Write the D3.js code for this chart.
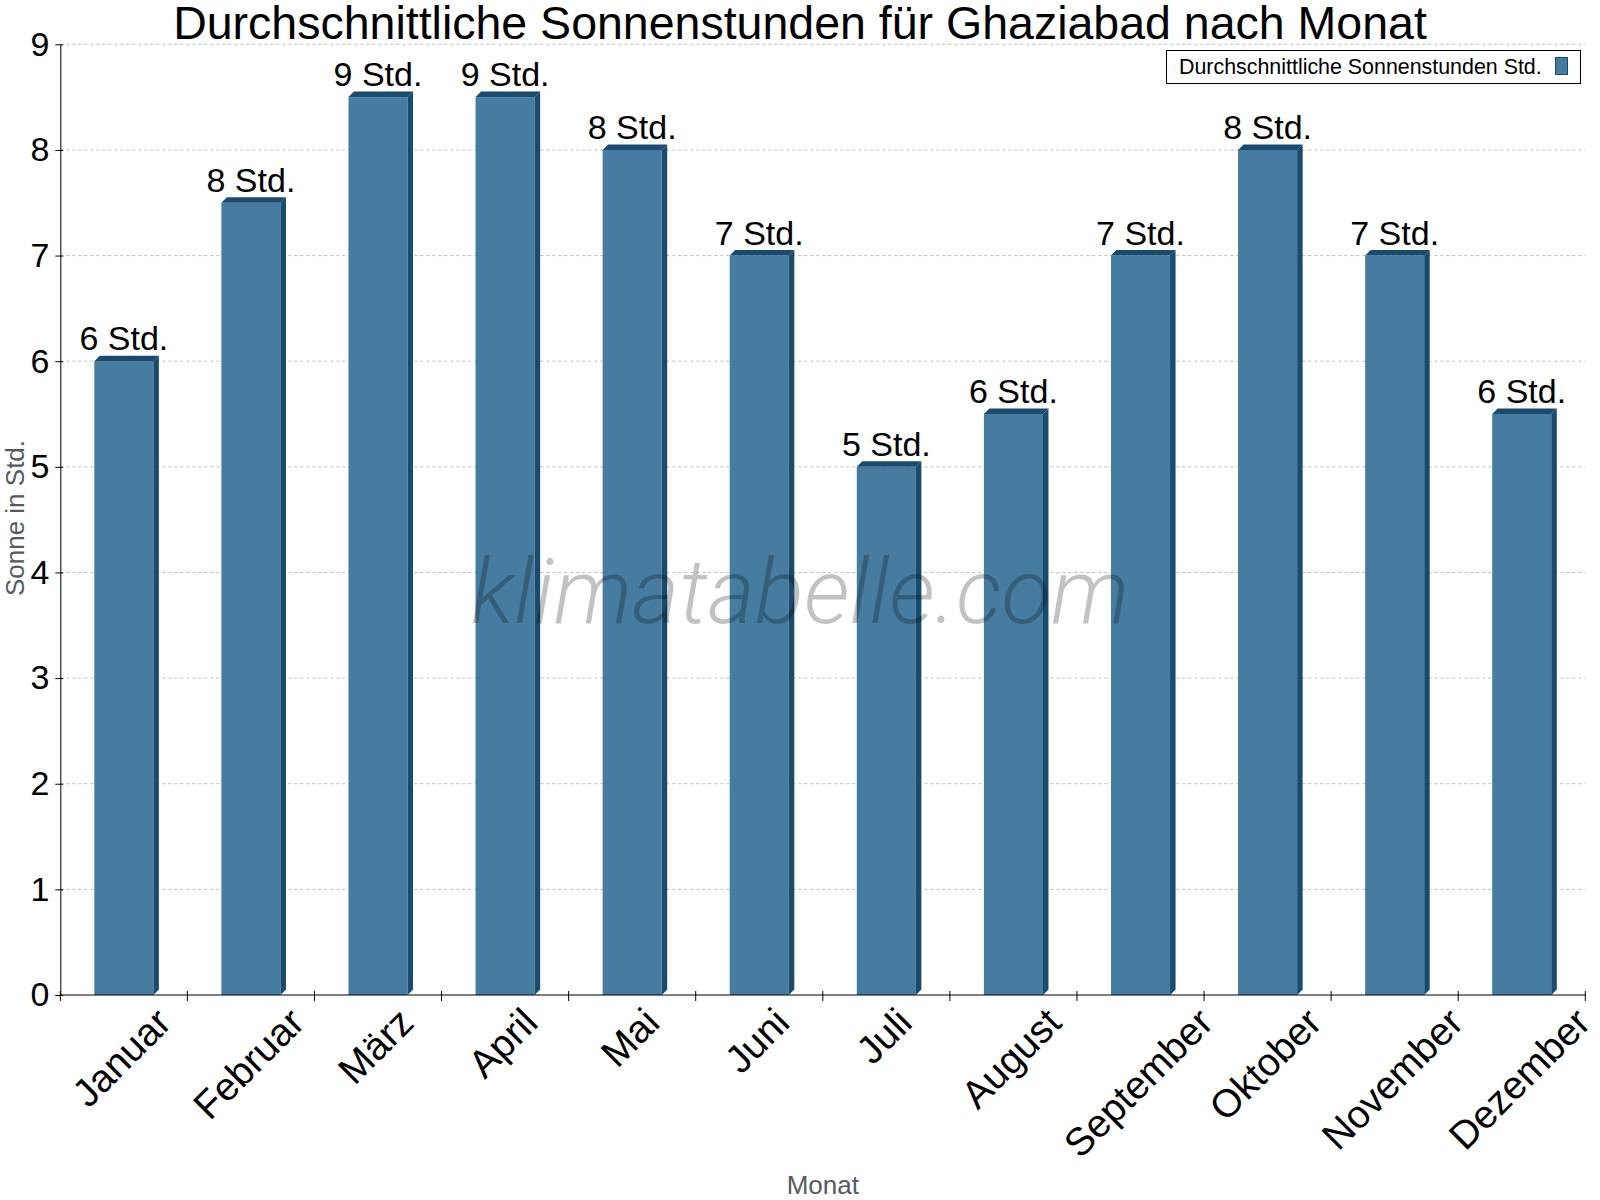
<!DOCTYPE html>
<html>
<head>
<meta charset="utf-8">
<script src="https://cdn.jsdelivr.net/npm/d3@7/dist/d3.min.js"></script>
<style>
  body { margin: 0; background: #fff; }
  svg { display: block; font-family: "Liberation Sans", Arial, sans-serif; }
</style>
</head>
<body>
<div id="chart"></div>
<script>
// Data
const months = ['Januar', 'Februar', 'März', 'April', 'Mai', 'Juni',
  'Juli', 'August', 'September', 'Oktober', 'November', 'Dezember'];
const sunHours = [6, 7.5, 8.5, 8.5, 8, 7, 5, 5.5, 7, 8, 7, 5.5];
const yTicks = [0, 1, 2, 3, 4, 5, 6, 7, 8, 9];

const title = 'Durchschnittliche Sonnenstunden für Ghaziabad nach Monat';
const seriesName = 'Durchschnittliche Sonnenstunden Std.';
const yTitle = 'Sonne in Std.';
const xTitle = 'Monat';
const unit = 'Std.';

const width = 1600;
const height = 1200;
const margin = { top: 44.3, right: 14.7, bottom: 205, left: 60.3 };
const frontColor = '#467ca0';
const darkColor = '#184b6e';
const depth = 5.5;

const svg = d3.select('#chart')
  .append('svg')
  .attr('width', width)
  .attr('height', height);

const x = d3.scaleBand()
  .domain(months)
  .range([margin.left, width - margin.right])
  .padding(0);

const y = d3.scaleLinear()
  .domain([0, 9])
  .range([height - margin.bottom, margin.top]);

const baseY = y(0);
const barW = x.bandwidth() * 0.465;

// Gridlines (dotted)
svg.append('g')
  .selectAll('line')
  .data(yTicks.filter(t => t > 0))
  .join('line')
  .attr('x1', margin.left)
  .attr('x2', width - margin.right)
  .attr('y1', d => y(d))
  .attr('y2', d => y(d))
  .attr('stroke', '#bdbdbd')
  .attr('stroke-width', 1)
  .attr('stroke-dasharray', '3,3');

// Bars with a small 3D effect
const bars = svg.append('g')
  .selectAll('g')
  .data(months.map((m, i) => ({ month: m, value: sunHours[i] })))
  .join('g');

bars.append('rect')
  .attr('x', d => x(d.month) + (x.bandwidth() - barW) / 2)
  .attr('y', d => y(d.value))
  .attr('width', barW)
  .attr('height', d => baseY - y(d.value))
  .attr('fill', frontColor);

// top face
bars.append('path')
  .attr('fill', darkColor)
  .attr('d', d => {
    const x0 = x(d.month) + (x.bandwidth() - barW) / 2;
    const x1 = x0 + barW;
    const t = y(d.value);
    return `M${x0},${t}L${x0 + depth},${t - depth}L${x1 + depth},${t - depth}L${x1},${t}Z`;
  });

// side face
bars.append('path')
  .attr('fill', darkColor)
  .attr('d', d => {
    const x1 = x(d.month) + (x.bandwidth() + barW) / 2;
    const t = y(d.value);
    return `M${x1},${t}L${x1 + depth},${t - depth}L${x1 + depth},${baseY - depth}L${x1},${baseY}Z`;
  });

// Value labels
bars.append('text')
  .attr('x', d => x(d.month) + x.bandwidth() / 2)
  .attr('y', d => y(d.value) - 11)
  .attr('text-anchor', 'middle')
  .style('font-size', '34px')
  .style('fill', '#000')
  .text(d => `${Math.round(d.value + 0.001)} ${unit}`);

// Y axis
const yAxis = svg.append('g')
  .attr('transform', `translate(${margin.left},0)`)
  .call(d3.axisLeft(y).tickValues(yTicks).tickSizeInner(5).tickSizeOuter(0).tickPadding(6));

yAxis.select('.domain').attr('stroke', '#000');
yAxis.selectAll('.tick line').attr('x1', 3).attr('stroke', '#000');
yAxis.selectAll('.tick text')
  .style('font-size', '34px')
  .style('font-family', '"Liberation Sans", Arial, sans-serif')
  .attr('fill', '#000');

// X axis line and ticks at band boundaries
const xAxis = svg.append('g');
xAxis.append('line')
  .attr('x1', margin.left)
  .attr('x2', width - margin.right)
  .attr('y1', baseY)
  .attr('y2', baseY)
  .attr('stroke', '#000');

xAxis.selectAll('line.tick')
  .data(months.map(m => x(m)).concat([x.range()[1]]))
  .join('line')
  .attr('class', 'tick')
  .attr('x1', d => d)
  .attr('x2', d => d)
  .attr('y1', baseY - 4)
  .attr('y2', baseY + 6)
  .attr('stroke', '#000');

// Rotated month labels: bounding box centered under the band
const c45 = Math.SQRT1_2;
const labelSize = 39;
const asc = labelSize * 0.72;
const desc = labelSize * 0.2;
xAxis.selectAll('text.month')
  .data(months)
  .join('text')
  .attr('class', 'month')
  .attr('text-anchor', 'end')
  .style('font-size', labelSize + 'px')
  .style('fill', '#000')
  .text(d => d)
  .each(function (d) {
    const L = this.getComputedTextLength();
    const cx = x(d) + x.bandwidth() / 2;
    const ax = cx + c45 * (L + asc - desc) / 2;
    const ay = baseY + 10 + asc * c45;
    d3.select(this).attr('transform', `translate(${ax},${ay}) rotate(-45)`);
  });

// Axis titles
svg.append('text')
  .attr('transform', `translate(24,518) rotate(-90)`)
  .attr('text-anchor', 'middle')
  .style('font-size', '26px')
  .style('fill', '#555a60')
  .text(yTitle);

svg.append('text')
  .attr('x', (margin.left + width - margin.right) / 2)
  .attr('y', 1194)
  .attr('text-anchor', 'middle')
  .style('font-size', '26px')
  .style('fill', '#555a60')
  .text(xTitle);

// Chart title
svg.append('text')
  .attr('x', 800)
  .attr('y', 39)
  .attr('text-anchor', 'middle')
  .style('font-size', '46.5px')
  .style('fill', '#000')
  .text(title);

// Legend
const legend = svg.append('g');
legend.append('rect')
  .attr('x', 1166.5)
  .attr('y', 50.5)
  .attr('width', 414)
  .attr('height', 33)
  .attr('fill', '#fff')
  .attr('stroke', '#000');
legend.append('text')
  .attr('x', 1179)
  .attr('y', 74)
  .style('font-size', '21.4px')
  .style('fill', '#000')
  .text(seriesName);
legend.append('rect')
  .attr('x', 1555.5)
  .attr('y', 57.5)
  .attr('width', 12)
  .attr('height', 17)
  .attr('fill', frontColor)
  .attr('stroke', darkColor);

// Watermark
svg.append('text')
  .attr('x', 800)
  .attr('y', 623)
  .attr('text-anchor', 'middle')
  .style('font-family', 'Roboto, sans-serif')
  .style('font-weight', 300)
  .style('font-style', 'italic')
  .style('font-size', '91px')
  .style('fill', 'rgba(0,0,0,0.24)')
  .text('klimatabelle.com');
</script>
</body>
</html>
